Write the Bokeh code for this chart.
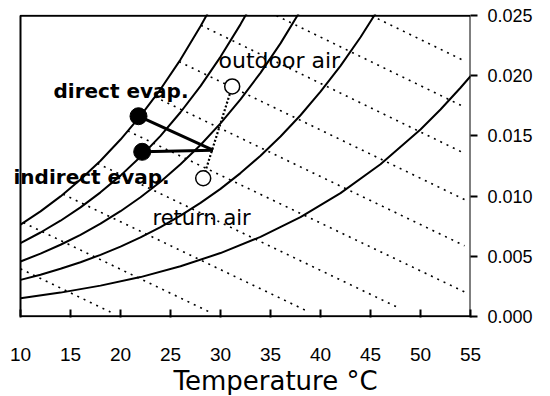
from bokeh.plotting import figure
from bokeh.models import (ColumnDataSource, LabelSet, FixedTicker, NumeralTickFormatter,
                          Range1d, Title)
from bokeh.core.properties import value
from bokeh.embed import file_html
from bokeh.resources import INLINE

# ---- data -------------------------------------------------------------
x_ticks = [10, 15, 20, 25, 30, 35, 40, 45, 50, 55]
y_ticks = [0.000, 0.005, 0.010, 0.015, 0.020, 0.025]
t_min, t_max = 10, 55
w_min, w_max = 0.0, 0.025

# relative humidity curves (100, 80, 60, 40, 20 %)
rh100_t = [10, 12, 14, 16, 18, 20, 22, 24, 26, 28, 29]
rh100_w = [0.00763, 0.00873, 0.00997, 0.01137, 0.01294, 0.01470, 0.01667, 0.01888, 0.02135, 0.02412, 0.02562]
rh80_t = [10, 12, 14, 16, 18, 20, 22, 24, 26, 28, 30, 32, 33]
rh80_w = [0.00609, 0.00697, 0.00795, 0.00906, 0.01031, 0.01170, 0.01327, 0.01501, 0.01697, 0.01914, 0.02158, 0.02428, 0.02575]
rh60_t = [10, 12, 14, 16, 18, 20, 22, 24, 26, 28, 30, 32, 34, 36, 38]
rh60_w = [0.00456, 0.00521, 0.00595, 0.00677, 0.00770, 0.00874, 0.00990, 0.01119, 0.01264, 0.01425, 0.01604, 0.01804, 0.02025, 0.02270, 0.02543]
rh40_t = [10, 12, 14, 16, 18, 20, 22, 24, 26, 28, 30, 32, 34, 36, 38, 40, 42, 44, 46]
rh40_w = [0.00303, 0.00346, 0.00395, 0.00450, 0.00511, 0.00580, 0.00656, 0.00742, 0.00837, 0.00943, 0.01060, 0.01191, 0.01335, 0.01495, 0.01672, 0.01868, 0.02083, 0.02321, 0.02583]
rh20_t = [10, 14, 18, 22, 26, 30, 34, 38, 42, 46, 50, 52, 54, 55]
rh20_w = [0.00151, 0.00197, 0.00255, 0.00326, 0.00416, 0.00526, 0.00661, 0.00825, 0.01024, 0.01265, 0.01554, 0.01720, 0.01901, 0.01997]

# constant-enthalpy lines (20 ... 110 kJ/kg), start and end points
h_start_t = [10.0, 10.29, 14.26, 17.7, 20.73, 23.43, 25.86, 28.05, 35.6, 45.1]
h_start_w = [0.00395, 0.00779, 0.01015, 0.01271, 0.01542, 0.01825, 0.02118, 0.02420, 0.02500, 0.02500]
h_end_t = [19.0, 29.2, 38.5, 47.7, 54.4, 54.4, 54.4, 54.4, 54.4, 54.4]
h_end_w = [0.00035, 0.00024, 0.00050, 0.00075, 0.00203, 0.00587, 0.00971, 0.01355, 0.01740, 0.02124]

# process states
evap_t = [21.8, 22.17]          # direct, indirect
evap_w = [0.01664, 0.01368]
mix_t = 29.25
mix_w = 0.01382
air_t = [31.17, 28.27]          # outdoor, return
air_w = [0.01912, 0.01148]

label_text = ["direct evap.", "indirect evap."]
label_t = [13.3, 9.3]
label_w = [0.01813, 0.01101]
air_text = ["outdoor air", "return air"]
air_label_t = [29.8, 23.2]
air_label_w = [0.02061, 0.00762]
air_label_size = ["22px", "21px"]

FONT = "DejaVu Sans"

# ---- figure -----------------------------------------------------------
p = figure(width=545, height=395, output_backend="svg", toolbar_location=None,
           x_range=Range1d(9.0, t_max), y_range=Range1d(w_min - 0.0001, w_max + 0.0001),
           y_axis_location="right",
           min_border_left=10, min_border_right=75, min_border_top=14, min_border_bottom=77)
p.grid.visible = False
p.outline_line_color = None
p.background_fill_color = "white"
p.border_fill_color = "white"

# plot box
p.quad(left=[t_min], right=[t_max], bottom=[w_min], top=[w_max],
       fill_color=None, line_color="black", line_width=2)

xa = p.xaxis[0]
xa.ticker = FixedTicker(ticks=x_ticks)
xa.major_tick_in = 8
xa.major_tick_out = 0
xa.minor_tick_line_color = None
xa.axis_line_color = None
xa.major_tick_line_width = 2
xa.major_label_standoff = 30
xa.major_label_text_font = "Liberation Sans"
xa.major_label_text_font_size = "19px"
xa.major_label_text_color = "black"

ya = p.yaxis[0]
ya.ticker = FixedTicker(ticks=y_ticks)
ya.formatter = NumeralTickFormatter(format="0.000")
ya.major_tick_in = 0
ya.major_tick_out = 7
ya.minor_tick_line_color = None
ya.axis_line_color = None
ya.major_tick_line_width = 2
ya.major_label_standoff = 10
ya.major_label_text_font = "Liberation Sans"
ya.major_label_text_font_size = "18px"
ya.major_label_text_color = "black"

# enthalpy lines (dotted)
p.segment(x0=h_start_t, y0=h_start_w, x1=h_end_t, y1=h_end_w,
          line_color="black", line_width=1.6, line_dash="2 5")

# RH curves
p.multi_line(xs=[rh100_t, rh80_t, rh60_t, rh40_t, rh20_t],
             ys=[rh100_w, rh80_w, rh60_w, rh40_w, rh20_w],
             line_color="black", line_width=2)

# mixing line outdoor -> return
p.line(x=air_t, y=air_w, line_color="black", line_width=2.2, line_dash="2 2")

# process lines to evaporative states
p.segment(x0=[mix_t, mix_t], y0=[mix_w, mix_w], x1=evap_t, y1=evap_w,
          line_color="black", line_width=3)

p.scatter(x=evap_t, y=evap_w, size=17, fill_color="black", line_color="black")
p.scatter(x=air_t, y=air_w, size=15, fill_color="white", line_color="black", line_width=1.5)

src1 = ColumnDataSource(dict(x=label_t, y=label_w, t=label_text))
p.add_layout(LabelSet(x="x", y="y", text="t", source=src1, text_font=value(FONT),
                      text_font_style="bold", text_font_size="20px",
                      text_baseline="alphabetic", text_color="black"))
src2 = ColumnDataSource(dict(x=air_label_t, y=air_label_w, t=air_text, s=air_label_size))
p.add_layout(LabelSet(x="x", y="y", text="t", source=src2, text_font=value(FONT),
                      text_font_size="s", text_baseline="alphabetic", text_color="black"))

p.add_layout(Title(text="Temperature °C", align="left", offset=163, standoff=0,
                   text_font=FONT, text_font_size="26px", text_font_style="normal",
                   text_color="black"), "below")

open("out.html", "w").write(file_html(p, INLINE))
